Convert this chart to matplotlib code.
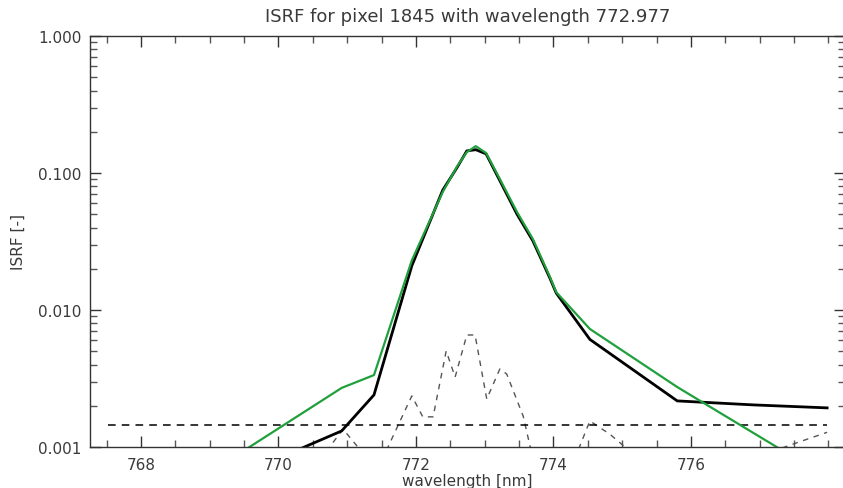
import matplotlib
matplotlib.use("Agg")
import matplotlib.pyplot as plt
from matplotlib.ticker import FixedLocator, MultipleLocator, LogLocator, NullFormatter

# measured ISRF (black)
wl_meas = [769.98, 770.92, 771.39, 771.94, 772.39, 772.60, 772.74, 772.87, 773.02,
           773.22, 773.47, 773.70, 773.95, 774.04, 774.53, 775.80, 776.90, 777.98]
isrf_meas = [0.00082, 0.00131, 0.0024, 0.021, 0.075, 0.110, 0.145, 0.148, 0.138,
             0.088, 0.050, 0.032, 0.0170, 0.0133, 0.0061, 0.00217, 0.00203, 0.00193]

# fitted ISRF (green)
wl_fit = [769.04, 770.92, 771.39, 771.94, 772.39, 772.60, 772.74, 772.87, 773.02,
          773.22, 773.47, 773.70, 773.95, 774.04, 774.53, 775.80, 777.98]
isrf_fit = [0.00067, 0.0027, 0.00335, 0.023, 0.0727, 0.112, 0.142, 0.157, 0.140,
            0.0904, 0.0519, 0.033, 0.0174, 0.0135, 0.00727, 0.00274, 0.0006]

# difference (grey dashed)
wl_diff = [770.60, 770.94, 771.23, 771.45, 771.94, 772.10, 772.25, 772.44, 772.57,
           772.74, 772.86, 773.03, 773.22, 773.32, 773.56, 773.66, 774.00, 774.36,
           774.53, 774.82, 775.02, 775.60, 776.50, 777.34, 777.60, 777.98]
isrf_diff = [0.0008, 0.00135, 0.0009, 0.0007, 0.00236, 0.00166, 0.00166, 0.00502, 0.00324,
             0.00657, 0.00657, 0.00224, 0.00371, 0.00341, 0.00168, 0.00101, 0.0006, 0.00095,
             0.00155, 0.00124, 0.00102, 0.0006, 0.0005, 0.00099, 0.0011, 0.00128]

# noise level (black dashed)
wl_level = [767.52, 777.98]
isrf_level = [0.00145, 0.00145]

title = "ISRF for pixel 1845 with wavelength 772.977"
y_ticks = [0.001, 0.01, 0.1, 1.0]
y_labels = ["0.001", "0.010", "0.100", "1.000"]
x_ticks = [768, 770, 772, 774, 776]

txt = "#3a3a3a"
plt.rcParams["font.family"] = ["DejaVu Sans"]

fig = plt.figure(figsize=(8.43, 4.89), dpi=100)
ax = fig.add_axes([90 / 843, 41 / 489, 755 / 843, 411 / 489])

ax.plot(wl_diff, isrf_diff, color="#555555", lw=1.0, dashes=(4, 4))
ax.plot(wl_level, isrf_level, color="black", lw=1.1, dashes=(5, 4))
ax.plot(wl_meas, isrf_meas, color="black", lw=2.0)
ax.plot(wl_fit, isrf_fit, color="#1fa03c", lw=1.6)

ax.set_yscale("log")
ax.set_xlim(767.26, 778.24)
ax.set_ylim(0.001, 1.0)

ax.xaxis.set_major_locator(FixedLocator(x_ticks))
ax.xaxis.set_minor_locator(MultipleLocator(0.5))
ax.set_xticklabels([str(t) for t in x_ticks])
ax.yaxis.set_major_locator(FixedLocator(y_ticks))
ax.set_yticklabels(y_labels)
ax.yaxis.set_minor_locator(LogLocator(base=10, subs=range(2, 10)))
ax.yaxis.set_minor_formatter(NullFormatter())

ax.tick_params(which="both", direction="in", top=True, right=True,
               color="#333333", width=1.0, labelsize=11, labelcolor=txt)
ax.tick_params(which="major", length=8)
ax.tick_params(which="minor", length=5, color="#555555")
ax.tick_params(axis="x", pad=7)
ax.tick_params(axis="y", pad=6)

for s in ax.spines.values():
    s.set_color("#333333")
    s.set_linewidth(1.0)

ax.set_title(title, fontsize=13, color=txt, pad=11)
ax.set_xlabel("wavelength [nm]", fontsize=11, color=txt, labelpad=1)
ax.set_ylabel("ISRF [-]", fontsize=11, color=txt, labelpad=9)

fig.savefig("out.png", dpi=100)
